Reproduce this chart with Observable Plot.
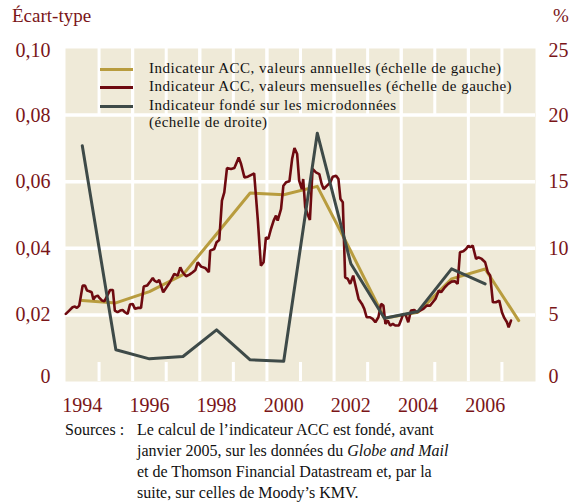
<!DOCTYPE html>
<html><head><meta charset="utf-8">
<script src="https://cdn.jsdelivr.net/npm/d3@7"></script>
<script src="https://cdn.jsdelivr.net/npm/@observablehq/plot@0.6"></script>
<style>
body{margin:0;background:#fff;font-family:"Liberation Serif","DejaVu Serif",serif;}
#wrap{position:relative;width:569px;height:502px;overflow:hidden;}
#chart{position:absolute;left:0;top:0;}
.abs{position:absolute;white-space:nowrap;font-family:"Liberation Serif","DejaVu Serif",serif;}
.title{color:#7a1518;font-size:19px;line-height:20px;}
.leg{font-size:15px;letter-spacing:0.5px;line-height:17px;color:#111;}
.sw{position:absolute;width:33px;height:3px;}
.src{font-size:16px;line-height:21px;color:#111;}
</style></head><body>
<div id="wrap"><div id="chart"></div></div>
<script>
// ---- data ----
const years = [1994,1995,1996,1997,1998,1999,2000,2001,2002,2003,2004,2005,2006,2007];
const annualValues = [0.0243,0.0236,0.0270,0.0321,0.0443,0.0566,0.0561,0.0586,0.0391,0.0190,0.0208,0.0308,0.0338,0.0183];
const microYears = [1994,1995,1996,1997,1998,1999,2000,2001,2002,2003,2004,2005,2006];
const microPercent = [17.7,2.38,1.70,1.88,3.88,1.63,1.52,18.64,8.84,4.75,5.26,8.46,7.33];
const monthlyX = [
1993.51,1993.61,1993.71,1993.78,1993.84,1993.91,1994.01,1994.08,1994.14,1994.21,
1994.28,1994.33,1994.39,1994.46,1994.51,1994.59,1994.66,1994.83,1994.91,1994.97,
1995.05,1995.13,1995.20,1995.27,1995.35,1995.42,1995.50,1995.57,1995.65,1995.75,
1995.83,1995.93,1996.03,1996.10,1996.15,1996.23,1996.29,1996.41,1996.51,1996.61,
1996.74,1996.84,1996.92,1996.99,1997.09,1997.19,1997.29,1997.37,1997.44,1997.54,
1997.66,1997.77,1997.81,1997.93,1998.00,1998.08,1998.16,1998.23,1998.31,1998.43,
1998.53,1998.66,1998.73,1998.83,1998.93,1999.08,1999.12,1999.23,1999.32,1999.40,
1999.47,1999.54,1999.62,1999.70,1999.77,1999.82,1999.92,1999.99,2000.07,2000.17,
2000.25,2000.32,2000.40,2000.46,2000.54,2000.58,2000.64,2000.71,2000.78,2000.86,
2000.96,2001.06,2001.13,2001.19,2001.29,2001.39,2001.46,2001.56,2001.63,2001.69,
2001.76,2001.83,2001.91,2001.98,2002.07,2002.23,2002.33,2002.40,2002.47,2002.57,
2002.65,2002.73,2002.82,2002.90,2002.97,2003.03,2003.10,2003.17,2003.25,2003.32,
2003.43,2003.49,2003.56,2003.64,2003.71,2003.79,2003.89,2003.96,2004.06,2004.16,
2004.26,2004.36,2004.44,2004.52,2004.62,2004.69,2004.80,2004.90,2005.00,2005.10,
2005.18,2005.25,2005.35,2005.43,2005.50,2005.56,2005.63,2005.68,2005.73,2005.80,
2005.90,2006.00,2006.08,2006.15,2006.23,2006.32,2006.42,2006.50,2006.57,2006.65,
2006.70,2006.77];
const monthlyValues = [
0.0203,0.0213,0.0223,0.0225,0.0221,0.0228,0.0288,0.0288,0.0273,0.0271,
0.0268,0.0246,0.0255,0.0258,0.0251,0.0243,0.0241,0.0275,0.0275,0.0213,
0.0208,0.0213,0.0215,0.0208,0.0203,0.0231,0.0233,0.0218,0.0221,0.0221,
0.0285,0.0288,0.0301,0.0311,0.0303,0.0298,0.0305,0.0268,0.0283,0.0298,
0.0323,0.0318,0.0343,0.0328,0.0316,0.0321,0.0328,0.0335,0.0358,0.0345,
0.0341,0.0328,0.0393,0.0398,0.0418,0.0425,0.0543,0.0568,0.0641,0.0638,
0.0641,0.0673,0.0653,0.0613,0.0615,0.0623,0.0625,0.0483,0.0348,0.0358,
0.0433,0.0428,0.0458,0.0483,0.0498,0.0483,0.0518,0.0588,0.0598,0.0601,
0.0668,0.0701,0.0683,0.0603,0.0578,0.0608,0.0523,0.0503,0.0485,0.0638,
0.0628,0.0623,0.0593,0.0578,0.0588,0.0598,0.0615,0.0618,0.0608,0.0548,
0.0538,0.0313,0.0308,0.0293,0.0318,0.0248,0.0233,0.0218,0.0193,0.0193,
0.0188,0.0178,0.0193,0.0233,0.0228,0.0173,0.0183,0.0168,0.0173,0.0168,
0.0168,0.0183,0.0203,0.0198,0.0178,0.0213,0.0215,0.0208,0.0213,0.0218,
0.0228,0.0228,0.0238,0.0248,0.0273,0.0268,0.0283,0.0293,0.0300,0.0301,
0.0293,0.0388,0.0391,0.0398,0.0408,0.0403,0.0408,0.0388,0.0368,0.0373,
0.0368,0.0358,0.0328,0.0318,0.0238,0.0238,0.0243,0.0208,0.0191,0.0178,
0.0163,0.0183];
const leftTicks = [0,0.02,0.04,0.06,0.08,0.10];
const xTickYears = [1994,1996,1998,2000,2002,2004,2006];
const rightPerLeft = 250; // 25 % at 0,10
const legendLabels = [
  "Indicateur ACC, valeurs annuelles (échelle de gauche)",
  "Indicateur ACC, valeurs mensuelles (échelle de gauche)",
  "Indicateur fondé sur les microdonnées<br>(échelle de droite)"
];
const titleLeft = "Écart-type";
const titleRight = "%";
const sourcesLabel = "Sources :";

// ---- styles ----
const FONT = '"Liberation Serif","DejaVu Serif",serif';
const cBg = "#EFEAD8", cRed = "#6E0A10", cGold = "#B89C3E", cGray = "#3E4A48", cLab = "#7a1518";

const annual = years.map((x,i)=>({x, v: annualValues[i]}));
const monthly = monthlyX.map((x,i)=>({x, v: monthlyValues[i]}));
const micro = microYears.map((x,i)=>({x, v: microPercent[i]/rightPerLeft}));

const boundaries = d3.range(1994.5, 2007, 1);
const fullBounds = boundaries.filter((d,i)=>i%2===1);
const shortBounds = boundaries.filter((d,i)=>i%2===0);

const H = 420, mT = 48, mB = 39;
const innerH = H - mT - mB;
const fmtL = d => d===0 ? "0" : d.toFixed(2).replace(".", ",");
const fmtR = d => String(Math.round(d*rightPerLeft));

const axisOpts = {tickSize:0, fill:cLab, fontSize:20, fontFamily:FONT};

const plot = Plot.plot({
  width:569, height:H, marginLeft:65, marginRight:34, marginTop:mT, marginBottom:mB,
  style:{fontFamily:FONT, background:"transparent", overflow:"visible"},
  x:{domain:[1993.5,2007.5], label:null},
  y:{domain:[0,0.1], label:null},
  marks:[
    Plot.frame({fill:cBg, stroke:"none"}),
    Plot.ruleY(leftTicks.filter(d=>d>0 && d<0.1), {stroke:"#fff", strokeWidth:3.5}),
    Plot.ruleX(fullBounds, {stroke:"#fff", strokeWidth:3}),
    Plot.ruleX(boundaries, {stroke:"#fff", strokeWidth:3, insetBottom: innerH*0.8}),
    Plot.ruleX(shortBounds, {stroke:"#fff", strokeWidth:3, insetTop: innerH-19}),
    Plot.line(annual, {x:"x", y:"v", stroke:cGold, strokeWidth:3}),
    Plot.line(monthly, {x:"x", y:"v", stroke:cRed, strokeWidth:2.6, strokeLinejoin:"miter"}),
    Plot.line(micro, {x:"x", y:"v", stroke:cGray, strokeWidth:3}),
    Plot.axisY([0], {...axisOpts, anchor:"left", tickPadding:15, tickFormat:fmtL, dy:-5}),
    Plot.axisY([0.02,0.04,0.06,0.08], {...axisOpts, anchor:"left", tickPadding:15, tickFormat:fmtL}),
    Plot.axisY([0.10], {...axisOpts, anchor:"left", tickPadding:15, tickFormat:fmtL, dy:2}),
    Plot.axisY([0], {...axisOpts, anchor:"right", tickPadding:13, tickFormat:fmtR, dy:-5}),
    Plot.axisY([0.02,0.04,0.06,0.08], {...axisOpts, anchor:"right", tickPadding:13, tickFormat:fmtR}),
    Plot.axisY([0.10], {...axisOpts, anchor:"right", tickPadding:13, tickFormat:fmtR, dy:2}),
    Plot.axisX(xTickYears, {...axisOpts, anchor:"bottom", tickPadding:16, tickFormat:d=>String(d)})
  ]
});
document.getElementById("chart").appendChild(plot);

const wrap = document.getElementById("wrap");
function add(html, cls, left, top, extra){
  const d = document.createElement("div");
  d.className = "abs " + cls;
  d.style.left = left+"px"; d.style.top = top+"px";
  if (extra) Object.assign(d.style, extra);
  d.innerHTML = html; wrap.appendChild(d); return d;
}
add(titleLeft, "title", 12, 6);
add(titleRight, "title", 553, 6);
// legend
const legColors = [cGold, cRed, cGray];
const legY = [69, 87, 106];
legColors.forEach((c,i)=>{ add("", "sw", 100, legY[i]-1.5, {background:c}); });
legendLabels.forEach((t,i)=>{ add(t, "leg", 149, legY[i]-9); });
// sources
add(sourcesLabel, "src", 65, 419);
add("Le calcul de l’indicateur ACC est fondé, avant<br>janvier 2005, sur les données du <i>Globe and Mail</i><br>et de Thomson Financial Datastream et, par la<br>suite, sur celles de Moody’s KMV.", "src", 137, 419);
</script>
</body></html>
